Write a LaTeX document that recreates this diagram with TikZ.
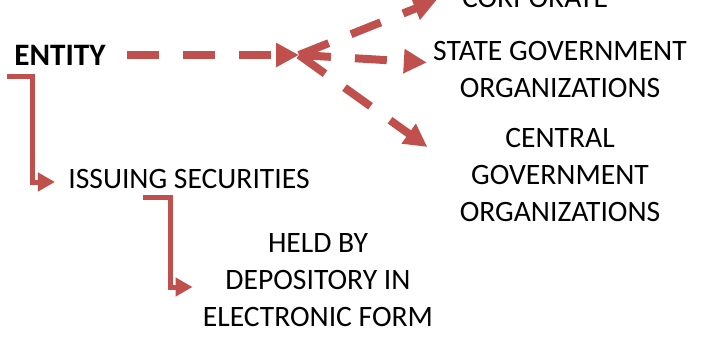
\documentclass[tikz,border=0pt]{standalone}
\usepackage{fontspec}
\setmainfont{Carlito}
\usetikzlibrary{calc,arrows.meta,positioning}
\definecolor{ArrRed}{HTML}{C0504D}

\begin{document}
\begin{tikzpicture}[x=0.5pt,y=-0.5pt,
  lbl/.style={align=center, inner sep=3pt,
              font=\fontsize{14.8}{18.5}\selectfont},
  dasharr/.style={ArrRed, line width=4pt, dash pattern=on 16pt off 12pt,
                  -{Triangle[length=11.5pt,width=11.5pt]}},
  elbow/.style={ArrRed, line width=2.5pt, line join=miter,
                -{Triangle[length=8.5pt,width=9pt]}}]
  \useasboundingbox (0,0) rectangle (713,337);
  \clip (0,0) rectangle (713,337);
  \node[lbl,font=\fontsize{15.6}{18.5}\selectfont\bfseries] (entity) at (60,55) {ENTITY};
  \node[lbl] (corporate)  at (535,-2)  {CORPORATE};
  \node[lbl] (stategov)   at (560,69.5) {STATE GOVERNMENT\\ORGANIZATIONS};
  \node[lbl] (centralgov) at (560,175) {CENTRAL\\GOVERNMENT\\ORGANIZATIONS};
  \node[lbl] (issuing)    at (189,179) {ISSUING SECURITIES};
  \node[lbl] (held)       at (318,280) {HELD BY\\DEPOSITORY IN\\ELECTRONIC FORM};
  \coordinate (hub) at (299,55);
  \coordinate (e1) at (7,76);
  \coordinate (e2) at (143,197);
  % dashed fan-out
  \draw[dasharr, shorten <=7.5pt] (entity.east) -- (hub);
  \draw[dasharr] (hub) -- ([shift={(-9.5pt,-1pt)}]corporate.west);
  \draw[dasharr] (hub) -- ([yshift=3.5pt]stategov.west);
  \draw[dasharr] (hub) -- ([shift={(-13pt,14pt)}]centralgov.west);
  % solid elbows
  \draw[elbow, shorten >=3.5pt] (e1) -- ++(25,0) |- ([yshift=-1.5pt]issuing.west);
  \draw[elbow, shorten >=2pt] (e2) -- ++(27,0) |- ([yshift=-3.5pt]held.west);
\end{tikzpicture}
\end{document}
